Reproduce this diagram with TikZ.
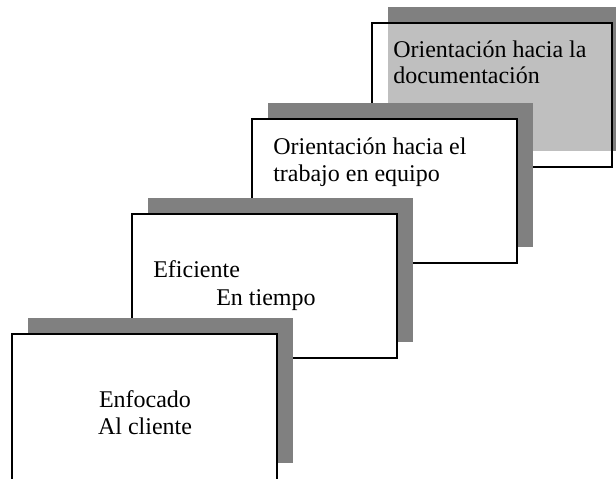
\documentclass[tikz,border=0pt]{standalone}
\usepackage{fontspec}
\setmainfont{Liberation Serif}
\definecolor{shadowgray}{RGB}{128,128,128}
\tikzset{
  stepshadow/.style={fill=shadowgray, draw=none},
  stepframe/.style={draw=black, line width=1.3pt, fill=white},
  steptext/.style={anchor=base west, inner sep=0pt, font=\fontsize{18pt}{20pt}\selectfont},
}
\begin{document}
\begin{tikzpicture}[x=0.75pt,y=0.75pt,yscale=-1,xscale=1]
\useasboundingbox (0,0) rectangle (616,478);

%Shape: Rectangle (top step, see-through fill)
\fill [stepshadow] (388,7) rectangle (628,151);
\draw [stepframe, fill opacity=0.5] (372,23) rectangle (612,167);
%Shape: Rectangle
\fill [stepshadow] (268,103) rectangle (533,247);
\draw [stepframe] (252,119) rectangle (517,263);
%Shape: Rectangle
\fill [stepshadow] (148,198) rectangle (413,342);
\draw [stepframe] (132,214) rectangle (397,358);
%Shape: Rectangle
\fill [stepshadow] (28,318) rectangle (293,463);
\draw [stepframe] (12,334) rectangle (277,481);

% Text Node
\node [steptext] (docA) at (393,57) {Orientación hacia la};
\node [steptext] (docB) at (393,84) {documentación};
% Text Node
\node [steptext] (teamA) at (273,154) {Orientación hacia el};
\node [steptext] (teamB) at (273,181) {trabajo en equipo};
% Text Node
\node [steptext] (timeA) at (153,277) {Eficiente};
\node [steptext] (timeB) at (216,305) {En tiempo};
% Text Node
\node [steptext, anchor=base] (clientA) at (145,407) {Enfocado};
\node [steptext, anchor=base] (clientB) at (145,434) {Al cliente};

\end{tikzpicture}
\end{document}
